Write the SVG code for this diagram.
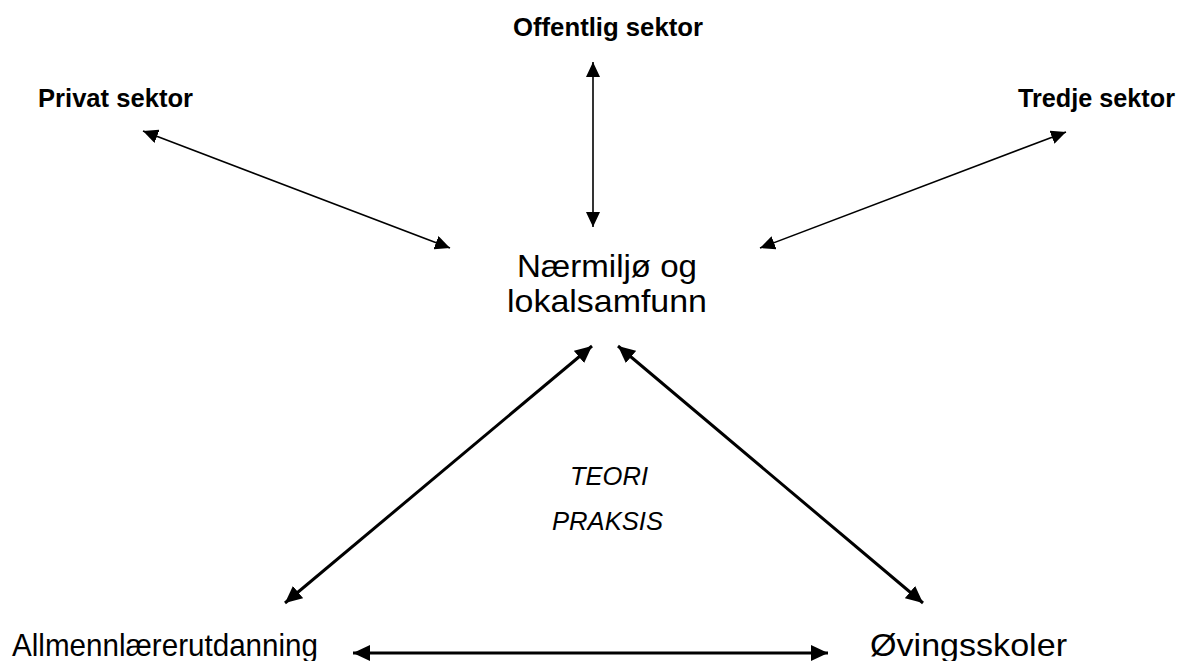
<svg xmlns="http://www.w3.org/2000/svg" width="1179" height="661" viewBox="0 0 1179 661">
<style>
text{font-family:"Liberation Sans",Arial,sans-serif;fill:#000}
.b{font-weight:bold;font-size:25px}
.m{font-size:32px}
.i{font-style:italic;font-size:25px}
.thin{stroke:#000;stroke-width:1.6;fill:none;marker-start:url(#ah);marker-end:url(#ah)}
.thick{stroke:#000;stroke-width:3;fill:none;marker-start:url(#ahb);marker-end:url(#ahb)}
</style>
<defs>
<marker id="ah" markerUnits="userSpaceOnUse" markerWidth="16" markerHeight="14" refX="15" refY="7" orient="auto-start-reverse"><path d="M0,0 L15,7 L0,14 z" fill="#000"/></marker>
<marker id="ahb" markerUnits="userSpaceOnUse" markerWidth="18" markerHeight="16" refX="17" refY="8" orient="auto-start-reverse"><path d="M0,0 L17,8 L0,16 z" fill="#000"/></marker>
</defs>
<rect width="1179" height="661" fill="#fff"/>
<g id="connectors">
<line class="thin" x1="593" y1="62" x2="593" y2="227"/>
<line class="thin" x1="143" y1="131" x2="450" y2="248"/>
<line class="thin" x1="1066" y1="132" x2="760" y2="248"/>
<line class="thick" x1="285" y1="603" x2="592" y2="346"/>
<line class="thick" x1="923" y1="603" x2="618" y2="346"/>
<line class="thick" x1="353" y1="653" x2="828" y2="653"/>
</g>
<g id="offentlig"><text class="b" x="513" y="36" textLength="190" lengthAdjust="spacingAndGlyphs">Offentlig sektor</text></g>
<g id="privat"><text class="b" x="38" y="107" textLength="155" lengthAdjust="spacingAndGlyphs">Privat sektor</text></g>
<g id="tredje"><text class="b" x="1018" y="107" textLength="157" lengthAdjust="spacingAndGlyphs">Tredje sektor</text></g>
<g id="naermiljo">
<text class="m" x="517" y="277" textLength="180" lengthAdjust="spacingAndGlyphs">Nærmiljø og</text>
<text class="m" x="507" y="312" textLength="200" lengthAdjust="spacingAndGlyphs">lokalsamfunn</text>
</g>
<g id="teori">
<text class="i" x="570" y="485" textLength="78" lengthAdjust="spacingAndGlyphs">TEORI</text>
<text class="i" x="552" y="530" textLength="111" lengthAdjust="spacingAndGlyphs">PRAKSIS</text>
</g>
<g id="allmenn"><text class="m" x="12" y="656" textLength="306" lengthAdjust="spacingAndGlyphs">Allmennlærerutdanning</text></g>
<g id="ovingsskoler"><text class="m" x="870" y="656" textLength="197" lengthAdjust="spacingAndGlyphs">Øvingsskoler</text></g>
</svg>
